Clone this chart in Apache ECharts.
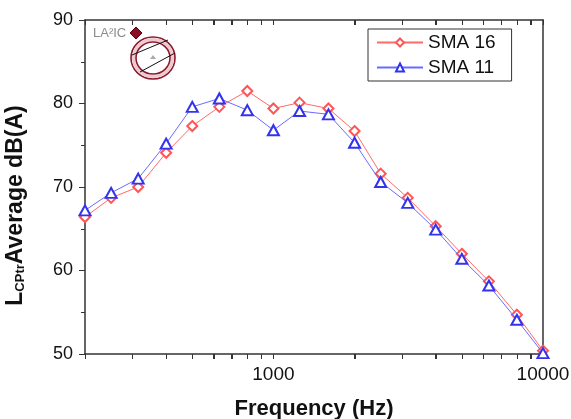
<!DOCTYPE html>
<html>
<head>
<meta charset="utf-8">
<script src="https://cdn.jsdelivr.net/npm/echarts@6/dist/echarts.min.js"></script>
<style>
html, body { margin: 0; padding: 0; background: #fff; }
#chart { width: 571px; height: 419px; }
</style>
</head>
<body>
<div id="chart"></div>
<script>
// one-third octave band centre frequencies (Hz)
var freqs = [200, 250, 315, 400, 500, 630, 800, 1000, 1250, 1600, 2000, 2500, 3150, 4000, 5000, 6300, 8000, 10000];
var sma16 = [66.4, 68.7, 70.0, 74.1, 77.3, 79.6, 81.5, 79.4, 80.1, 79.4, 76.7, 71.6, 68.7, 65.3, 62.0, 58.7, 54.7, 50.4];
var sma11 = [67.2, 69.3, 71.0, 75.2, 79.6, 80.6, 79.2, 76.8, 79.1, 78.7, 75.3, 70.6, 68.1, 64.9, 61.4, 58.2, 54.1, 50.1];
var xTicks = [200, 300, 400, 500, 600, 700, 800, 900, 1000, 2000, 3000, 4000, 5000, 6000, 7000, 8000, 9000, 10000];
var xLabels = [1000, 10000];

var font = '"Liberation Sans", Arial, sans-serif';
var axisColor = '#333';
// tick-only axes work in log10 space
var logTicks = xTicks.map(function (v) { return Math.log10(v); });

function pairs(vals) {
  return freqs.map(function (f, i) { return [f, vals[i]]; });
}

function tickAxis(pos, inside) {
  return {
    type: 'value',
    min: Math.log10(200),
    max: 4,
    position: pos,
    axisLine: { show: pos === 'top', onZero: false, lineStyle: { color: axisColor, width: 1.5 } },
    axisTick: { show: true, inside: inside, length: 5, customValues: logTicks, lineStyle: { color: axisColor, width: 1 } },
    axisLabel: { show: false },
    splitLine: { show: false }
  };
}

// x ticks drawn through the log axis as well (bottom: outward, top: inward)
function renderTicks(params, api) {
  var f = api.value(0);
  var b = api.coord([f, 50]);
  var t = api.coord([f, 90]);
  var x = Math.round(b[0]) + 0.5;
  return {
    type: 'group',
    children: [
      { type: 'line', shape: { x1: x, y1: b[1], x2: x, y2: b[1] + 5 }, style: { stroke: axisColor, lineWidth: 1 } },
      { type: 'line', shape: { x1: x, y1: t[1], x2: x, y2: t[1] + 5 }, style: { stroke: axisColor, lineWidth: 1 } }
    ]
  };
}

var myChart = echarts.init(document.getElementById('chart'));

myChart.setOption({
  animation: false,
  grid: { left: 85, right: 28, top: 20, bottom: 65, outerBoundsMode: 'none' },
  legend: {
    orient: 'vertical',
    left: 368,
    top: 29,
    width: 145,
    padding: [4, 16, 4, 8],
    itemWidth: 46,
    itemHeight: 10,
    itemGap: 6,
    borderColor: '#333',
    borderWidth: 1,
    textStyle: { fontFamily: font, fontSize: 19, color: '#111' },
    data: ['SMA 16', 'SMA 11']
  },
  xAxis: [{
    type: 'log',
    logBase: 10,
    min: 200,
    max: 10000,
    name: 'Frequency (Hz)',
    nameLocation: 'middle',
    nameGap: 44,
    nameTextStyle: { fontFamily: font, fontSize: 22, fontWeight: 'bold', color: '#111' },
    axisLine: { lineStyle: { color: axisColor, width: 1.5 } },
    axisTick: { show: false },
    axisLabel: { fontFamily: font, fontSize: 19, color: '#111', margin: 11,
      formatter: function (v) {
        var r = Math.round(v);
        return xLabels.indexOf(r) > -1 ? String(r) : '';
      } },
    splitLine: { show: false }
  }, tickAxis('top', true), tickAxis('bottom', false)],
  yAxis: [{
    type: 'value',
    min: 50,
    max: 90,
    interval: 10,
    name: '{l|L}{s|CPtr}{l|Average dB(A)}',
    nameLocation: 'middle',
    nameRotate: 90,
    nameGap: 58,
    nameTextStyle: {
      padding: [0, 37, 0, 0],
      rich: {
        l: { fontFamily: font, fontSize: 23, fontWeight: 'bold', color: '#111' },
        s: { fontFamily: font, fontSize: 13, fontWeight: 'bold', color: '#111', verticalAlign: 'bottom' }
      }
    },
    axisLine: { show: true, lineStyle: { color: axisColor, width: 1.5 } },
    axisTick: { show: true, length: 6, lineStyle: { color: axisColor } },
    minorTick: { show: true, splitNumber: 2, length: 4, lineStyle: { color: axisColor } },
    axisLabel: { fontFamily: font, fontSize: 18, color: '#111', margin: 12 },
    splitLine: { show: false }
  }, {
    type: 'value',
    min: 50,
    max: 90,
    interval: 10,
    position: 'right',
    axisLine: { show: true, onZero: false, lineStyle: { color: axisColor, width: 1.5 } },
    axisTick: { show: false },
    axisLabel: { show: false },
    splitLine: { show: false }
  }],
  graphic: [
    { type: 'text', left: 93, top: 27, style: { text: 'LA²IC', fontFamily: font, fontSize: 13, fill: '#8c8c8c' } },
    { type: 'polygon', shape: { points: [[136, 27], [142, 33], [136, 39], [130, 33]] }, style: { fill: '#8a1022', stroke: '#5a0010', lineWidth: 1 } },
    { type: 'ellipse', shape: { cx: 153, cy: 58, rx: 22, ry: 21 }, style: { fill: 'none', stroke: '#8a1a2c', lineWidth: 1.6 } },
    { type: 'ellipse', shape: { cx: 153, cy: 58, rx: 19.5, ry: 18.5 }, style: { fill: 'none', stroke: '#f0c8d0', lineWidth: 3 } },
    { type: 'ellipse', shape: { cx: 153, cy: 58, rx: 17, ry: 16 }, style: { fill: 'none', stroke: '#8a1a2c', lineWidth: 1.6 } },
    { type: 'line', shape: { x1: 132, y1: 55, x2: 168, y2: 40 }, style: { stroke: '#111', lineWidth: 1 } },
    { type: 'line', shape: { x1: 140, y1: 72, x2: 175, y2: 53 }, style: { stroke: '#111', lineWidth: 1 } },
    { type: 'polygon', shape: { points: [[153, 55], [156, 59], [150, 59]] }, style: { fill: '#aaa' } }
  ],
  series: [{
    type: 'custom',
    name: 'ticks',
    xAxisIndex: 0,
    yAxisIndex: 0,
    silent: true,
    clip: false,
    z: 1,
    renderItem: renderTicks,
    encode: { x: 0 },
    data: xTicks.map(function (v) { return [v]; })
  }, {
    name: 'SMA 16',
    type: 'line',
    data: pairs(sma16),
    symbol: 'emptyDiamond',
    symbolSize: 10,
    lineStyle: { color: '#ff6a6a', width: 1 },
    itemStyle: { color: '#ff5555', borderWidth: 1.2 },
    z: 3
  }, {
    name: 'SMA 11',
    type: 'line',
    data: pairs(sma11),
    symbol: 'emptyTriangle',
    symbolSize: [11, 10],
    lineStyle: { color: '#6a6aff', width: 1 },
    itemStyle: { color: '#3333ee', borderWidth: 1.2 },
    z: 4
  }]
});
</script>
</body>
</html>
